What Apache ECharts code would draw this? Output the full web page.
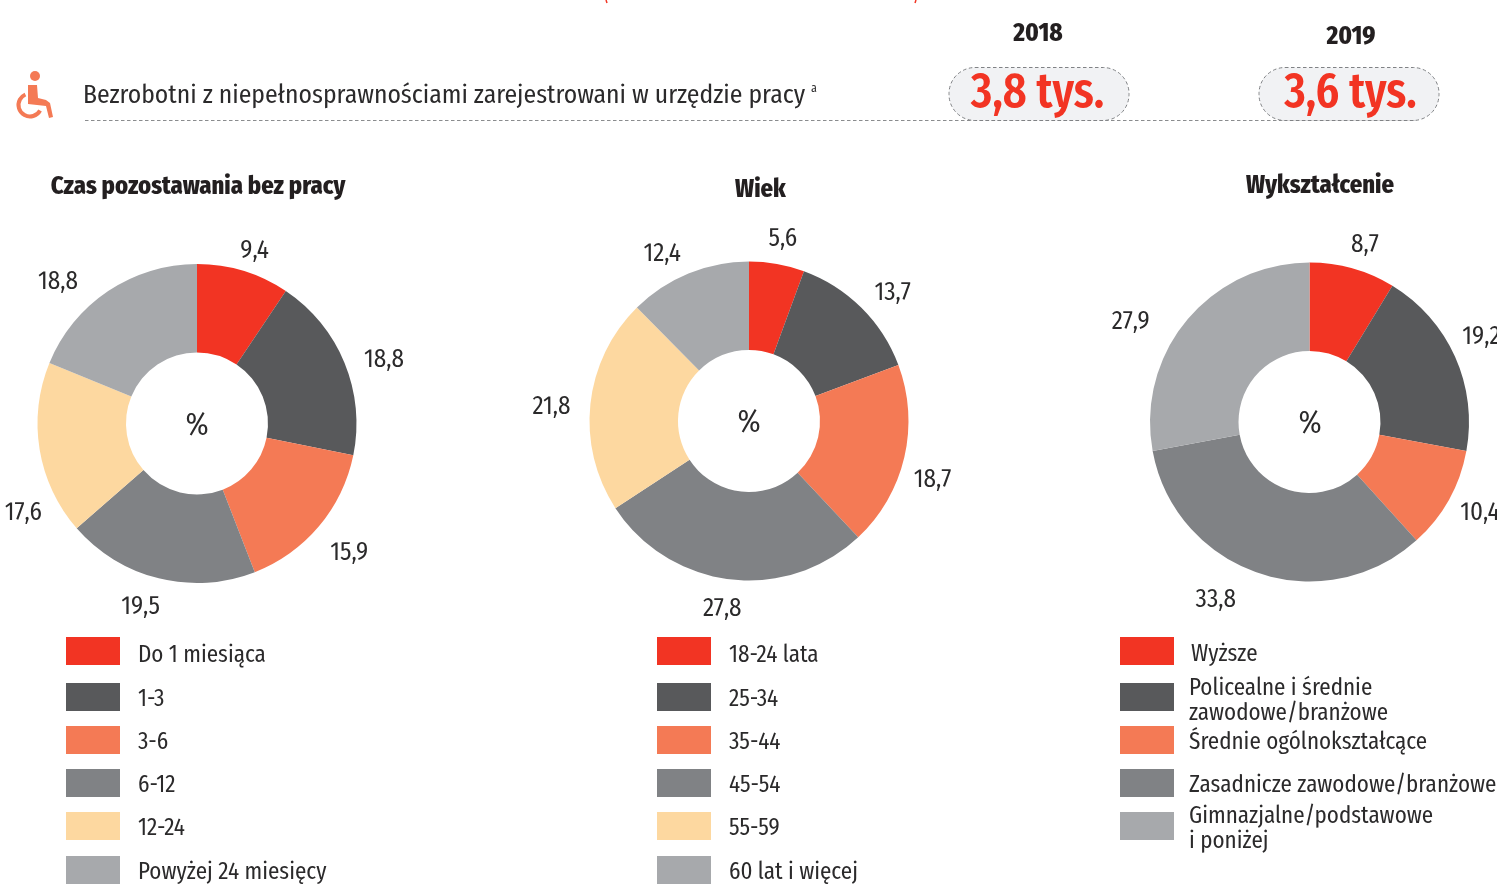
<!DOCTYPE html>
<html><head><meta charset="utf-8">
<style>html,body{margin:0;padding:0;background:#fff}#c{width:1497px;height:894px}</style>
<script src="https://cdn.jsdelivr.net/npm/echarts@6/dist/echarts.min.js"></script>
</head><body><div id="c"></div>
<script>
const FONT = '"Fira Sans Condensed"';
const colors = ['#F23423','#58595B','#F47A55','#808285','#FDD8A0','#A7A9AC'];
const colors3 = ['#F23423','#58595B','#F47A55','#808285','#A7A9AC'];
const titles = ['Czas pozostawania bez pracy','Wiek','Wykształcenie'];
const cat1 = ['Do 1 miesiąca','1-3','3-6','6-12','12-24','Powyżej 24 miesięcy'];
const val1 = [9.4,18.8,15.9,19.5,17.6,18.8];
const cat2 = ['18-24 lata','25-34','35-44','45-54','55-59','60 lat i więcej'];
const val2 = [5.6,13.7,18.7,27.8,21.8,12.4];
const cat3 = ['Wyższe','Policealne i średnie\nzawodowe/branżowe','Średnie ogólnokształcące','Zasadnicze zawodowe/branżowe','Gimnazjalne/podstawowe\ni poniżej'];
const val3 = [8.7,19.2,10.4,33.8,27.9];
const header = 'Bezrobotni z niepełnosprawnościami zarejestrowani w urzędzie pracy';
const years = ['2018','2019'];
const totals = ['3,8 tys.','3,6 tys.'];

// label nudges relative to the library's outside-label position
const nudge1 = [[-14,-1],[-4,5],[-9,14],[11,9],[27,60],[-14,8]];
const nudge2 = [[-17,-5],[-6,-1],[-15,18],[19,10],[5,5],[5,-1]];
const nudge3 = [[-12,-4],[-16,-12],[-11,4],[-11,8],[-17,15]];

const fmt = v => v.toFixed(1).replace('.',',');
function pie(cats, vals, cols, center, nudge){
  return {type:'pie',silent:true,radius:[71,159.5],center,startAngle:90,clockwise:true,
    avoidLabelOverlap:false,itemStyle:{borderWidth:0},
    label:{show:true,position:'outside',formatter:p=>fmt(p.value),fontFamily:FONT,fontSize:25,color:'#2b2a2b'},
    labelLine:{show:false,length:20,length2:0},
    labelLayout:p=>({dx:nudge[p.dataIndex][0],dy:nudge[p.dataIndex][1]}),
    data:cats.map((n,i)=>({name:n,value:vals[i],itemStyle:{color:cols[i]}}))};
}
function legendRow(name,left,centre,padTop,padLeft){
  const lines=name.split('\n').length;
  const h=Math.max(28,lines*25+padTop);
  return {data:[name],left,top:centre-h/2+1,orient:'vertical',itemWidth:54,itemHeight:28,selectedMode:false,icon:'rect',padding:0,
    formatter:n=>n.split('\n').map(s=>'{a|'+s+'}').join('\n'),
    textStyle:{rich:{a:{fontFamily:FONT,fontSize:23,lineHeight:25,color:'#2b2a2b',padding:[padTop,0,0,padLeft]}}}};
}
const rows=[651,697,740,783,826,870];
const rows3=[651,697,740,783,826];
const pad3=[7.5,9,5.5,5.5,7];
const legends=[];
cat1.forEach((n,i)=>legends.push(legendRow(n,66,rows[i],i?5.5:8.5,13)));
cat2.forEach((n,i)=>legends.push(legendRow(n,657,rows[i],i?5.5:8.5,13)));
cat3.forEach((n,i)=>legends.push(legendRow(n,1120,rows3[i],pad3[i],i?10:12)));

const g=[];
const O='#F47A55';
g.push({type:'circle',shape:{cx:35,cy:76,r:5},style:{fill:O}});
g.push({type:'polygon',shape:{points:[[28,85],[37,85],[38,98],[46,100],[50,103],[53,117],[49,118],[46,106],[28,104]]},style:{fill:O}});
g.push({type:'arc',shape:{cx:30,cy:105,r:11.5,startAngle:0.5,endAngle:4.3,clockwise:true},style:{fill:null,stroke:O,lineWidth:4}});
g.push({type:'text',style:{x:83,y:96,text:header,font:'25.6px '+FONT,fill:'#2b2a2b',verticalAlign:'middle'}});
g.push({type:'text',style:{x:811,y:89,text:'a',font:'12px '+FONT,fill:'#2b2a2b',verticalAlign:'middle'}});
g.push({type:'line',shape:{x1:85,y1:120.5,x2:1415,y2:120.5},style:{stroke:'#8a8c8e',lineWidth:1,lineDash:[3.5,2.5]}});
[[949,1038,34],[1259,1351,37]].forEach((a,i)=>{
  g.push({type:'rect',shape:{x:a[0],y:67.5,width:180,height:53,r:26},style:{fill:'#F1F2F4',stroke:'#808285',lineWidth:1,lineDash:[3.5,2.5]}});
  g.push({type:'text',style:{x:a[1],y:a[2],text:years[i],align:'center',verticalAlign:'middle',font:'800 25px '+FONT,fill:'#231F20'}});
  g.push({type:'text',x:a[0]+88.5+(i?3:0),y:93,scaleX:0.92,style:{x:0,y:0,text:totals[i],align:'center',verticalAlign:'middle',font:'600 50px '+FONT,fill:'#F23423'}});
});
[[197,426],[749,423],[1310,424]].forEach(c=>{
  g.push({type:'text',style:{x:c[0],y:c[1],text:'%',align:'center',verticalAlign:'middle',font:'31px '+FONT,fill:'#2b2a2b'}});
});
g.push({type:'line',shape:{x1:606,y1:0,x2:607,y2:3},style:{stroke:'#F23423',lineWidth:1.5}});
g.push({type:'line',shape:{x1:916,y1:0,x2:915,y2:3},style:{stroke:'#F23423',lineWidth:1.5}});

const ch=echarts.init(document.getElementById('c'),null,{renderer:'canvas'});
const tt=(t,x,y)=>({text:t,left:x,top:y,textAlign:'center',padding:0,textStyle:{fontFamily:FONT,fontWeight:800,fontSize:24.5,color:'#231F20'}});
ch.setOption({animation:false,backgroundColor:'#fff',
  title:[tt(titles[0],198,175),tt(titles[1],760.5,178),tt(titles[2],1320,174)],
  legend:legends,
  series:[pie(cat1,val1,colors,[197,423.5],nudge1),pie(cat2,val2,colors,[749,421],nudge2),pie(cat3,val3,colors3,[1309.5,422],nudge3)],
  graphic:{elements:g}
});
</script></body></html>
